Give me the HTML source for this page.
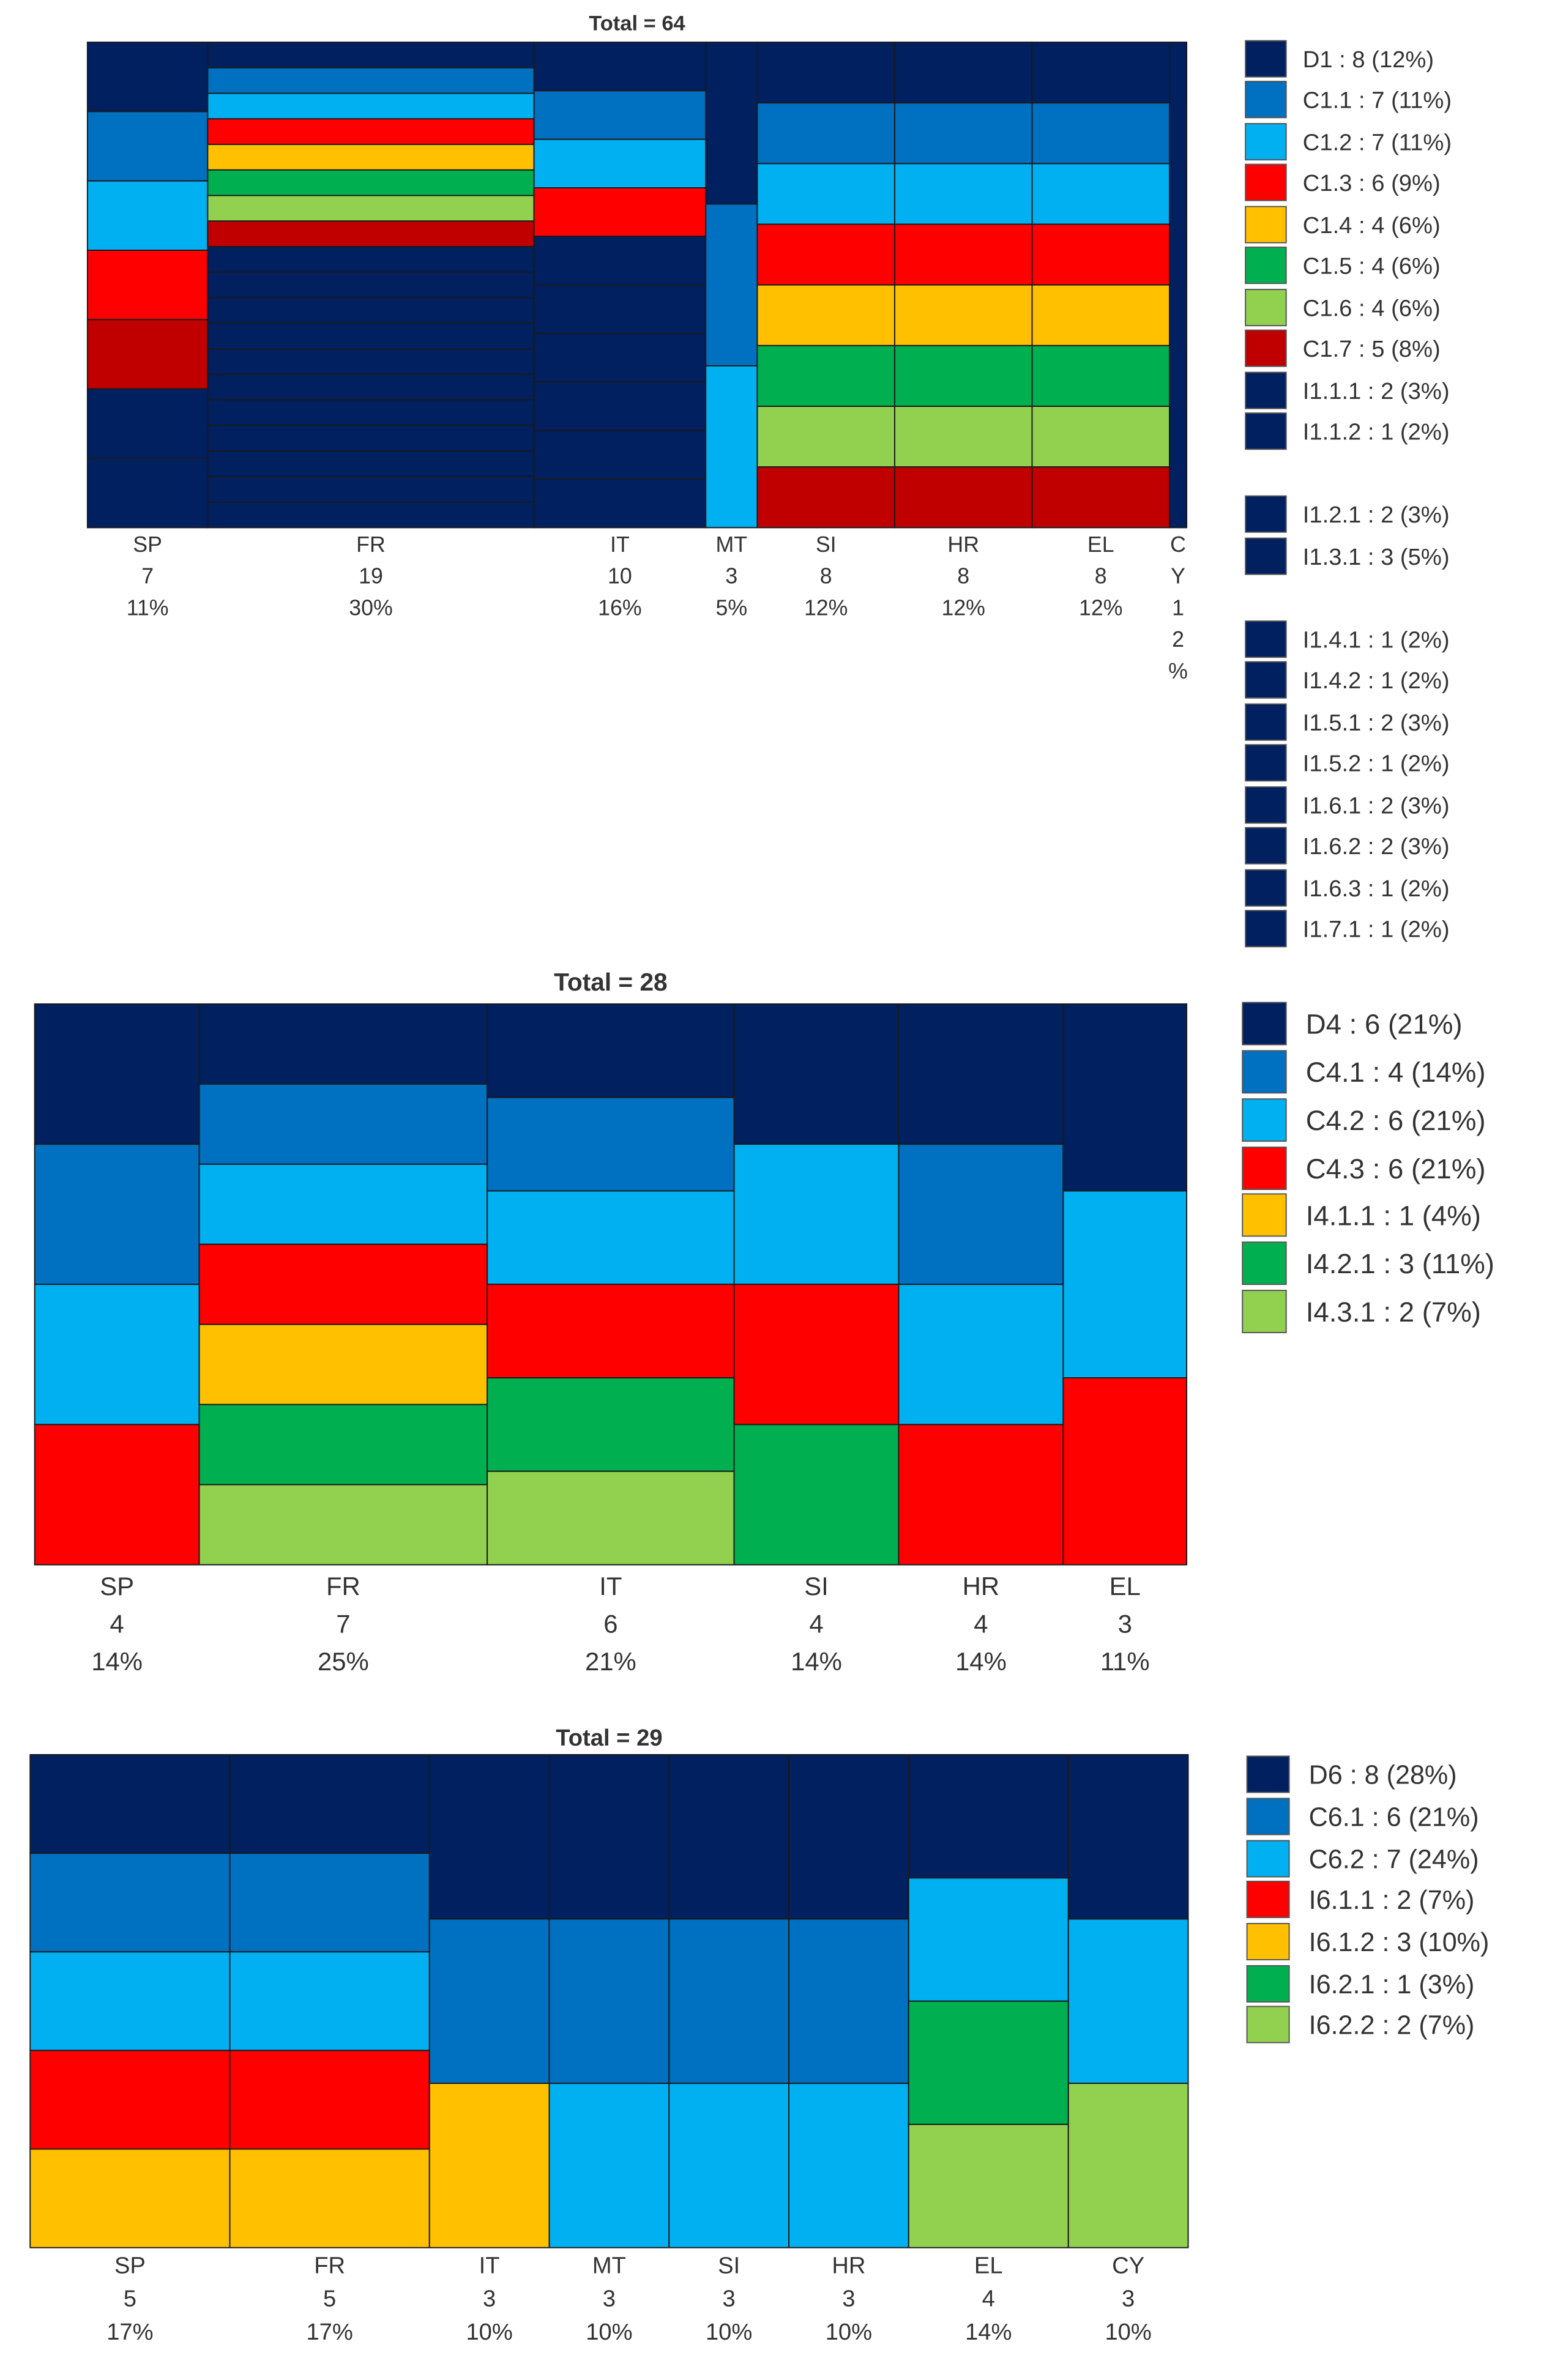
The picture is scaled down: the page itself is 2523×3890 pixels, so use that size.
<!DOCTYPE html>
<html><head><meta charset="utf-8"><style>
html,body{margin:0;padding:0;background:#fff}
svg{display:block}
text{font-family:"Liberation Sans",sans-serif;fill:#333}
</style></head><body>
<svg id="chart" width="2523" height="3890" viewBox="0 0 1024 1578.8" xmlns="http://www.w3.org/2000/svg"></svg>
<script>
const COL = {navy:'#002060', mid:'#0070C0', light:'#00B0F0', red:'#FF0000', yellow:'#FFC000', green:'#00B050', lgreen:'#92D050', dred:'#C00000'};

// Chart 1 data
const c1Countries = ['SP','FR','IT','MT','SI','HR','EL','CY'];
const c1Counts = [7,19,10,3,8,8,8,1];
const c1Pcts = ['11%','30%','16%','5%','12%','12%','12%','2%'];
const c1Segments = [
 ['navy','mid','light','red','dred','navy','navy'],
 ['navy','mid','light','red','yellow','green','lgreen','dred','navy','navy','navy','navy','navy','navy','navy','navy','navy','navy','navy'],
 ['navy','mid','light','red','navy','navy','navy','navy','navy','navy'],
 ['navy','mid','light'],
 ['navy','mid','light','red','yellow','green','lgreen','dred'],
 ['navy','mid','light','red','yellow','green','lgreen','dred'],
 ['navy','mid','light','red','yellow','green','lgreen','dred'],
 ['navy']
];
const c1Legend = ['D1 : 8 (12%)','C1.1 : 7 (11%)','C1.2 : 7 (11%)','C1.3 : 6 (9%)','C1.4 : 4 (6%)','C1.5 : 4 (6%)','C1.6 : 4 (6%)','C1.7 : 5 (8%)','I1.1.1 : 2 (3%)','I1.1.2 : 1 (2%)','I1.2.1 : 2 (3%)','I1.3.1 : 3 (5%)','I1.4.1 : 1 (2%)','I1.4.2 : 1 (2%)','I1.5.1 : 2 (3%)','I1.5.2 : 1 (2%)','I1.6.1 : 2 (3%)','I1.6.2 : 2 (3%)','I1.6.3 : 1 (2%)','I1.7.1 : 1 (2%)'];
const c1LegendColors = ['navy','mid','light','red','yellow','green','lgreen','dred','navy','navy','navy','navy','navy','navy','navy','navy','navy','navy','navy','navy'];

// Chart 2 data
const c2Countries = ['SP','FR','IT','SI','HR','EL'];
const c2Counts = [4,7,6,4,4,3];
const c2Pcts = ['14%','25%','21%','14%','14%','11%'];
const c2Segments = [
 ['navy','mid','light','red'],
 ['navy','mid','light','red','yellow','green','lgreen'],
 ['navy','mid','light','red','green','lgreen'],
 ['navy','light','red','green'],
 ['navy','mid','light','red'],
 ['navy','light','red']
];
const c2Legend = ['D4 : 6 (21%)','C4.1 : 4 (14%)','C4.2 : 6 (21%)','C4.3 : 6 (21%)','I4.1.1 : 1 (4%)','I4.2.1 : 3 (11%)','I4.3.1 : 2 (7%)'];
const c2LegendColors = ['navy','mid','light','red','yellow','green','lgreen'];

// Chart 3 data
const c3Countries = ['SP','FR','IT','MT','SI','HR','EL','CY'];
const c3Counts = [5,5,3,3,3,3,4,3];
const c3Pcts = ['17%','17%','10%','10%','10%','10%','14%','10%'];
const c3Segments = [
 ['navy','mid','light','red','yellow'],
 ['navy','mid','light','red','yellow'],
 ['navy','mid','yellow'],
 ['navy','mid','light'],
 ['navy','mid','light'],
 ['navy','mid','light'],
 ['navy','light','green','lgreen'],
 ['navy','light','lgreen']
];
const c3Legend = ['D6 : 8 (28%)','C6.1 : 6 (21%)','C6.2 : 7 (24%)','I6.1.1 : 2 (7%)','I6.1.2 : 3 (10%)','I6.2.1 : 1 (3%)','I6.2.2 : 2 (7%)'];
const c3LegendColors = ['navy','mid','light','red','yellow','green','lgreen'];

const svg = document.getElementById('chart');
const NS = 'http://www.w3.org/2000/svg';
function mk(tag, attrs, parent){const e=document.createElementNS(NS,tag);for(const k in attrs)e.setAttribute(k,attrs[k]);(parent||svg).appendChild(e);return e;}

function mosaic(cfg, countries, counts, pcts, segs, total){
  const g = mk('g',{});
  
  
  const sum = counts.reduce((a,b)=>a+b,0);
  const W = cfg.x1-cfg.x0, H = cfg.y1-cfg.y0;
  const t = mk('text',{x:(cfg.x0+cfg.x1)/2,y:cfg.titleY,'text-anchor':'middle','font-size':cfg.tfs,'font-weight':'bold',fill:'#111'},g);
  t.textContent = 'Total = '+total;
  
  
  let cx = cfg.x0;
  countries.forEach((c,i)=>{
    const w = counts[i]/sum*W;
    const n = segs[i].length;
    segs[i].forEach((s,j)=>{
      const r = mk('rect',{x:cx,y:cfg.y0+j*H/n,width:w,height:H/n,fill:COL[s],stroke:'#1a1a1a','stroke-width':0.8},g);
      
      
    });
    const mx = cx+w/2;
    let lines = [c, String(counts[i]), pcts[i]];
    if (cfg.vertical && w < 20) lines = (c+String(counts[i])+pcts[i]).split('');
    lines.forEach((L,k)=>{
      const tx = mk('text',{x:mx,y:cfg.labY+k*cfg.labDy,'text-anchor':'middle','font-size':cfg.fs},g);
      tx.textContent = L;
      
      
    });
    cx += w;
  });
}

function legend(items, colors, ys, bx, bw, bh, tx, fs, name){
  items.forEach((it,i)=>{
    const r = mk('rect',{x:bx,y:ys[i]-bh/2,width:bw,height:bh,fill:COL[colors[i]],stroke:'#555','stroke-width':0.8});
    
    
    const t = mk('text',{x:tx,y:ys[i]+fs*0.36,'font-size':fs});
    t.textContent = it;
    
    
  });
}

mosaic({name:'mosaic-chart-1',x0:58,x1:787,y0:28,y1:350,titleY:20,tfs:14,labY:366,labDy:21,fs:14.5,vertical:true}, c1Countries,c1Counts,c1Pcts,c1Segments,64);
const ly1 = [39,66,94,121,149,176,204,231,259,286,341,369,424,451,479,506,534,561,589,616];
legend(c1Legend,c1LegendColors,ly1,826,27,24,864,15.5,'legend-1');

mosaic({name:'mosaic-chart-2',x0:23,x1:787,y0:666,y1:1038,titleY:657,tfs:16.5,labY:1058,labDy:25,fs:17}, c2Countries,c2Counts,c2Pcts,c2Segments,28);
const ly2 = [679,711,743,775,806,838,870];
legend(c2Legend,c2LegendColors,ly2,824,29,28,866,18.5,'legend-2');

mosaic({name:'mosaic-chart-3',x0:20,x1:788,y0:1164,y1:1491,titleY:1158,tfs:15.5,labY:1508,labDy:22,fs:15.5}, c3Countries,c3Counts,c3Pcts,c3Segments,29);
const ly3 = [1177,1205,1233,1260,1288,1316,1343];
legend(c3Legend,c3LegendColors,ly3,827,28,24,868,17.5,'legend-3');
</script>
</body></html>
